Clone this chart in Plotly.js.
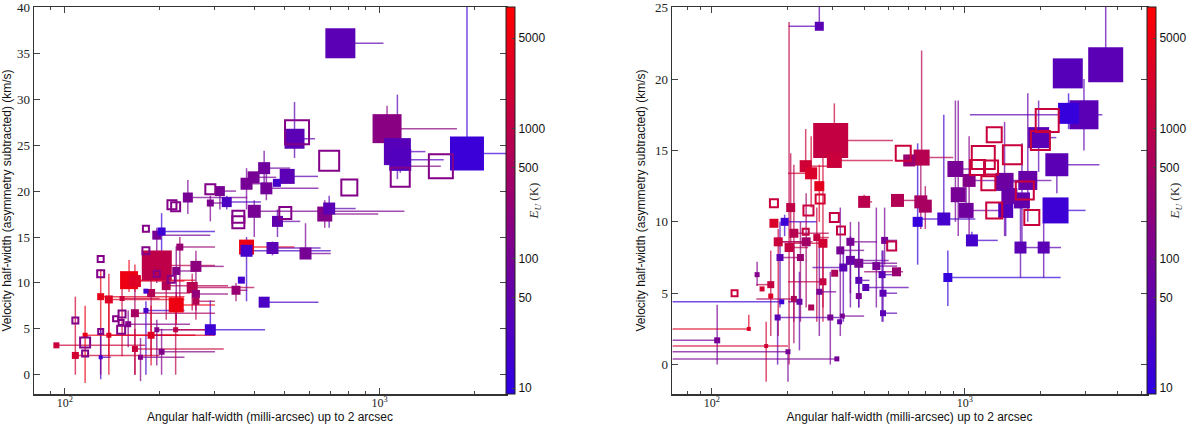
<!DOCTYPE html>
<html>
<head>
<meta charset="utf-8">
<script src="https://cdn.plot.ly/plotly-3.0.1.min.js"></script>
<style>
  html, body { margin: 0; padding: 0; background: #fff; }
  #graph { width: 1200px; height: 424px; }
</style>
</head>
<body>
<div id="graph"></div>
<script>
// ---- left panel: x (mas), y (km/s), E_U (K), marker size, open?, error bar extents
var leftX    = [751,1897,1057,1140,1164,1567,1164,692,802,547,537,509,472,430,398,378,437,400,356,356,502,474,311,290,327,290,246,219,225,670,692,378,378,457,582,364,350,430,290,196,203,181,181,232,196,160,167,130,130,261,254,226,210,226,218,196,138,130,152,188,181,167,152,145,151,151,159,181,261,261,108,116,116,108,94,130,130,116,138,188,167,174,203,196,225];
var leftY    = [36.1,24.1,26.8,24.3,23.4,22.7,21.5,23.3,20.4,26.4,25.7,21.6,20.9,22.5,21.5,20.8,20.3,17.8,16.6,17.2,17.6,16.7,20.0,20.2,18.8,18.7,19.3,18.5,18.3,17.5,18.1,13.9,13.5,13.8,13.2,10.3,9.2,7.9,4.9,15.2,15.6,15.9,13.5,13.9,11.9,10.3,10.2,11.0,12.6,11.8,9.5,7.6,9.7,11.3,10.4,11.0,8.2,8.5,8.3,8.9,9.1,6.7,6.6,6.1,5.7,4.9,5.5,7.0,8.8,8.0,5.9,3.5,2.3,2.1,3.2,4.7,1.9,4.3,4.3,4.3,2.8,1.9,2.5,4.9,4.9];
var leftE    = [40,14,180,35,30,150,150,150,150,150,40,40,20,80,100,100,90,100,150,150,150,50,100,150,25,120,100,150,150,150,40,5000,20,40,100,20,300,25,15,100,15,150,150,300,1000,5000,3000,150,150,200,800,5000,700,150,150,150,3000,4000,1500,700,20,500,150,150,150,150,150,20,250,700,150,150,150,2000,1500,150,20,5000,3000,3000,1500,150,150,150,1000];
var leftSize = [30,34,29,27,22,24,19,20,16,24,20,15,8,12,12,12,12,13,12,12,12,11,10,10,10,7,10,9,9,15,12,15,12,12,12,7,9,11,11,9,8,6,7,7,30,18,12,7,6,11,11,15,9,8,7,6,8,7,5,8,5,8,7,5,5,8,6,5,8,7,6,10,6,7,6,5,4,5,5,7,6,5,6,5,5];
var leftOpen = [0,0,0,0,0,1,1,1,1,1,0,0,0,0,0,0,0,0,1,1,1,0,0,1,0,0,0,1,1,0,0,0,0,0,0,0,0,0,0,0,0,1,1,0,0,0,0,1,1,0,0,0,0,0,1,1,0,0,0,0,0,0,1,1,1,1,0,0,0,0,1,1,1,0,0,1,0,0,0,0,0,0,0,0,0];
var leftXlo  = [751,1897,1057,1140,1164,1200,1164,692,802,547,537,509,472,430,398,378,437,400,356,356,502,474,311,290,327,290,246,219,225,670,692,378,378,457,582,364,350,430,290,196,203,181,181,232,196,160,167,130,130,261,254,226,210,226,218,196,138,130,152,188,181,167,152,145,151,151,159,181,261,261,108,116,116,108,94,130,130,116,138,188,167,174,203,196,225];
var leftXhi  = [1030,2600,1763,1400,1600,1567,1164,692,802,547,624,638,472,520,470,440,640,1200,356,356,502,560,350,290,420,320,380,219,225,991,840,537,700,650,700,364,380,640,433,290,300,181,181,300,300,260,240,130,130,320,400,300,330,260,218,196,240,240,200,250,181,300,152,145,151,151,250,240,330,300,108,116,116,200,180,130,140,230,300,260,320,240,300,280,300];
var leftYlo  = [36.1,23,26.8,21.3,22,22.7,21.5,23.3,20.4,26.4,23.6,21,20.9,20.5,21.5,18,19,15,16.6,17.2,17.6,15,18,20.2,18,16.7,17.5,18.5,18.3,16,16,13,8,13,13,10.3,8,7.9,4.9,10,12,15.9,13.5,8,11.9,9,9,11,12.6,9,7,5.5,6,6,10.4,11,2,0,2,2,9.1,0,6.6,6.1,5.7,4.9,3,0,7,6,5.9,3.5,2.3,0,3.2,4.7,-0.5,-0.9,0,1,0,-0.7,0,1,0];
var leftYhi  = [36.1,41,29.3,30.5,24.2,22.7,21.5,23.3,20.4,26.4,29.7,22,20.9,24.4,21.5,22.5,22,19,16.6,17.2,17.6,18,20.5,20.2,19.5,19.5,21.2,18.5,18.3,19,19.5,14.5,15,14.5,16.5,10.3,10,7.9,8.1,16,17.6,15.9,13.5,15,11.9,12.5,12,11,12.6,13.5,11,9,12.5,14,10.4,11,11,11.5,10,12.5,9.1,9.5,6.6,6.1,5.7,4.9,7,8,10,9.5,5.9,3.5,2.3,8.5,3.2,4.7,5,7.5,8,7.5,5,4,5,6,7];

// ---- right panel
var rightX    = [3605,2553,2958,2571,2117,1958,1990,1307,1542,1183,1123,1270,1239,1307,1726,1840,571,268,241,176,305,324,235,514,123,2311,2284,1774,1682,1436,1451,1500,918,1040,942,1012,1067,826,651,857,1660,2050,675,603,670,698,542,400,295,305,235,247,266,266,205,176,194,183,202,211,236,260,275,322,353,353,381,331,447,482,471,537,381,406,475,381,475,306,275,266,247,224,186,171,171,158,151,189,211,222,182,294,320,328,140,105,164,200,312];
var rightY    = [21.0,20.4,17.5,17.6,17.1,15.9,15.7,16.1,14.7,14.5,13.8,13.8,12.7,10.8,12.2,10.3,14.8,11.6,10.8,11.3,10.3,9.4,9.3,8.3,5.0,14.0,10.8,12.9,11.5,12.8,10.8,11.8,13.7,12.9,11.9,10.8,8.7,10.2,10.0,6.1,8.2,8.2,14.5,14.3,11.4,11.1,11.5,11.4,15.7,14.3,13.9,13.4,12.5,23.7,11.0,9.9,10.0,8.6,8.2,9.2,8.6,8.9,8.5,8.0,8.6,7.3,7.1,6.8,6.9,8.7,6.3,6.5,5.9,5.4,5.0,4.8,3.6,6.4,5.8,5.1,4.0,7.5,7.5,5.6,4.8,5.3,6.3,4.4,4.6,4.4,3.3,3.3,3.0,3.4,2.5,1.7,1.3,0.9,0.4];
var rightE    = [40,35,40,12,1500,40,1500,1500,1500,1500,1500,1500,1500,1500,1500,1500,1500,2000,1500,1500,1200,1200,1200,1000,1500,40,15,60,50,70,30,60,100,150,100,80,20,20,12,12,40,40,800,300,500,500,700,900,1200,1500,1800,2500,3500,40,1000,2500,15,1500,1200,800,400,1200,2000,100,100,60,100,40,100,100,40,300,40,40,40,100,40,600,1200,100,600,300,40,1200,3000,2000,150,15,600,60,40,100,60,100,3000,100,2000,100,100];
var rightSize = [35,30,29,21,23,21,19,15,19,23,15,14,14,16,18,15,15,9,10,8,9,8,6,9,6,23,26,19,16,18,15,16,16,13,15,15,12,13,10,9,12,12,16,12,13,13,13,12,35,15,12,12,10,9,9,9,8,9,9,9,9,7,9,8,8,9,9,8,8,7,7,9,7,7,7,6,6,7,7,6,6,7,7,7,5,5,5,5,6,6,6,6,5,5,4,6,4,5,5];
var rightOpen = [0,0,0,0,1,0,1,1,1,1,1,1,1,1,1,1,1,1,1,1,1,1,1,1,1,0,0,0,0,0,0,0,0,0,0,0,0,0,0,0,0,0,0,0,0,0,0,0,0,0,0,0,0,0,0,0,0,0,0,0,0,0,0,0,0,0,0,0,0,0,0,0,0,0,0,0,0,0,0,0,0,0,0,0,0,0,0,0,0,0,0,0,0,0,0,0,0,0,0];
var rightXlo  = [3605,2553,1047,2571,2117,1958,1990,1307,1542,1183,1123,1270,1239,1307,1726,1840,571,268,241,176,305,324,235,514,123,2311,2284,1000,1682,1436,1451,1500,918,1040,942,1012,1067,651,651,857,1660,2050,675,603,670,698,542,400,295,305,235,200,260,201,205,176,194,183,202,211,190,260,210,322,353,353,381,250,447,482,471,400,381,406,475,381,475,306,200,266,247,190,186,150,171,158,151,70,150,200,182,294,320,328,70,70,70,70,70];
var rightXhi  = [3605,2553,3498,2571,2117,2300,1990,1307,1542,1183,1123,1270,1239,1307,1726,1840,571,268,241,176,305,324,235,514,123,3404,3000,2200,1682,1800,1451,1500,1100,1040,942,1400,1350,1100,651,2392,2100,2400,900,603,670,698,670,430,520,520,300,247,266,266,205,176,260,250,240,290,236,290,275,400,450,500,540,331,540,540,540,570,420,600,540,381,540,306,275,310,247,224,186,171,171,158,151,189,211,222,320,294,320,400,140,105,200,200,312];
var rightYlo  = [21,20.4,15,16.5,17.1,13.5,15.7,16.1,14.7,14.5,13.8,13.8,12.7,10.8,12.2,10.3,14.8,11.6,10.8,11.3,10.3,9.4,9.3,8.3,5.0,12,10.8,10,8.5,9,9,11.8,10,8.5,9,10.5,8.7,10.2,7,4.1,6.1,6.1,14.5,14.3,9.5,9.5,11.5,11.4,15.7,13.8,13,11,10,23.7,8,9.9,9,2,0,3,4,3,4,2,5,4,4,3,4,7,3,6.5,4,5.4,3,4.8,3.6,6.4,3,2,4,3,4,2,4.8,5.3,5.5,4.4,1.5,1,0,0,3,3.4,2.5,0,-1.2,-1.2,0.4];
var rightYhi  = [26,20.4,20,19,17.1,18.5,15.7,16.1,14.7,14.5,13.8,13.8,12.7,10.8,12.2,10.3,14.8,11.6,10.8,11.3,10.3,9.4,9.3,8.3,5.0,14,10.8,19,15.5,17,12,11.8,18.5,16,18.5,12.5,9.3,17.5,15.5,8.0,12,11.5,22,14.3,15,12.5,11.5,11.9,15.7,18.3,16.5,16,14,25.5,14.8,9.9,10.5,9.5,24,14,12,11,14.5,11,10,9,10,8,11,11,8,6.5,8.5,5.4,8,4.8,3.6,6.4,8.5,9,4,10,10,8,4.8,5.3,7.2,4.4,8.5,6.5,3.3,6.5,3,3.4,3.5,4.2,3,1,0.4];

var colorTicks = [10, 50, 100, 500, 1000, 5000];
var cmin = Math.log10(9), cmax = Math.log10(8700);
var cLow = [45, 0, 230], cHigh = [255, 0, 0];

function colorFor(e, alpha) {
  var t = (Math.log10(e) - cmin) / (cmax - cmin);
  t = Math.max(0, Math.min(1, t));
  var c = cLow.map(function(v, i) { return Math.round(v + (cHigh[i] - v) * t); });
  return 'rgba(' + c.join(',') + ',' + alpha + ')';
}

var scale = [[0, 'rgb(' + cLow.join(',') + ')'], [1, 'rgb(' + cHigh.join(',') + ')']];

function panel(X, Y, E, S, O, xlo, xhi, ylo, yhi, xa, ya, cbx) {
  var traces = [];
  // error bars, one trace per point so each gets its own colour
  for (var i = 0; i < X.length; i++) {
    traces.push({
      x: [X[i]], y: [Y[i]], xaxis: xa, yaxis: ya,
      type: 'scatter', mode: 'markers',
      marker: {size: 1, opacity: 0},
      error_x: {type: 'data', symmetric: false, array: [xhi[i] - X[i]], arrayminus: [X[i] - xlo[i]],
                color: colorFor(E[i], 0.7), thickness: 1.5, width: 0},
      error_y: {type: 'data', symmetric: false, array: [yhi[i] - Y[i]], arrayminus: [Y[i] - ylo[i]],
                color: colorFor(E[i], 0.7), thickness: 1.5, width: 0},
      hoverinfo: 'skip', showlegend: false
    });
  }
  var pick = function(arr, flag) { return arr.filter(function(_, i) { return O[i] === flag; }); };
  var logE = E.map(function(v) { return Math.log10(v); });
  traces.push({
    x: pick(X, 0), y: pick(Y, 0), xaxis: xa, yaxis: ya,
    type: 'scatter', mode: 'markers', showlegend: false,
    marker: {
      symbol: 'square', size: pick(S, 0), color: pick(logE, 0), opacity: 1,
      colorscale: scale, cmin: cmin, cmax: cmax, line: {width: 0},
      showscale: true,
      colorbar: {
        x: cbx, xanchor: 'left', xpad: 0, ypad: 0,
        y: 30 / 424, yanchor: 'bottom', len: 387 / 424, lenmode: 'fraction',
        thickness: 9, outlinewidth: 1, outlinecolor: '#222',
        tickvals: colorTicks.map(function(v) { return Math.log10(v); }),
        ticktext: colorTicks.map(String),
        ticks: 'inside', ticklen: 3, tickcolor: '#444',
        tickfont: {family: 'Liberation Sans, Arial, sans-serif', size: 12, color: '#111'},
        title: {text: '<i>E<sub>U</sub></i> (K)', side: 'right',
                font: {family: 'Liberation Serif, serif', size: 13, color: '#333'}}
      }
    }
  });
  traces.push({
    x: pick(X, 1), y: pick(Y, 1), xaxis: xa, yaxis: ya,
    type: 'scatter', mode: 'markers', showlegend: false,
    marker: {
      symbol: 'square-open', size: pick(S, 1), color: pick(logE, 1), opacity: 1,
      colorscale: scale, cmin: cmin, cmax: cmax, showscale: false,
      line: {width: 2}
    }
  });
  return traces;
}

var data = []
  .concat(panel(leftX, leftY, leftE, leftSize, leftOpen, leftXlo, leftXhi, leftYlo, leftYhi, 'x', 'y', 506 / 1200))
  .concat(panel(rightX, rightY, rightE, rightSize, rightOpen, rightXlo, rightXhi, rightYlo, rightYhi, 'x2', 'y2', 1147 / 1200));

var tickFont = {family: 'Liberation Serif, serif', size: 13, color: '#222'};
var titleFont = {family: 'Liberation Sans, Arial, sans-serif', size: 12, color: '#111'};
var minorVals = [70, 80, 90, 200, 300, 400, 500, 600, 700, 800, 900, 2000, 3000, 4000, 5000];

function xAxis(domain, range) {
  return {
    type: 'log', domain: domain, range: range.map(Math.log10), anchor: domain[0] < 0.5 ? 'y' : 'y2',
    tickvals: [100, 1000], ticktext: ['10<sup>2</sup>', '10<sup>3</sup>'],
    ticks: 'inside', ticklen: 6, tickcolor: '#444', mirror: 'ticks',
    minor: {tickvals: minorVals, ticks: 'inside', ticklen: 3, tickcolor: '#444'},
    showline: true, linecolor: '#333', linewidth: 1.5, showgrid: false, zeroline: false,
    ticklabelstandoff: -3,
    tickfont: {family: 'Liberation Serif, serif', size: 12, color: '#222'},
    title: {text: 'Angular half-width (milli-arcsec) up to 2 arcsec', font: titleFont, standoff: 5}
  };
}
function yAxis(range, dtick, anchor) {
  return {
    domain: [30 / 424, 417 / 424], range: range, anchor: anchor,
    tick0: 0, dtick: dtick, ticks: 'inside', ticklen: 6, tickcolor: '#444', mirror: 'ticks',
    showline: true, linecolor: '#333', linewidth: 1.5, showgrid: false, zeroline: false,
    tickfont: tickFont,
    title: {text: 'Velocity half-width (asymmetry subtracted) (km/s)', font: titleFont, standoff: 6}
  };
}

var layout = {
  width: 1200, height: 424,
  margin: {l: 0, r: 0, t: 0, b: 0},
  paper_bgcolor: '#fff', plot_bgcolor: '#fff',
  showlegend: false,
  xaxis: xAxis([34 / 1200, 506 / 1200], [79.8, 2524]),
  yaxis: yAxis([-2.1, 40.05], 5, 'x'),
  xaxis2: xAxis([672 / 1200, 1147 / 1200], [69.6, 5250]),
  yaxis2: yAxis([-2.06, 25.05], 5, 'x2')
};

Plotly.newPlot('graph', data, layout, {displayModeBar: false, staticPlot: true});
</script>
</body>
</html>
